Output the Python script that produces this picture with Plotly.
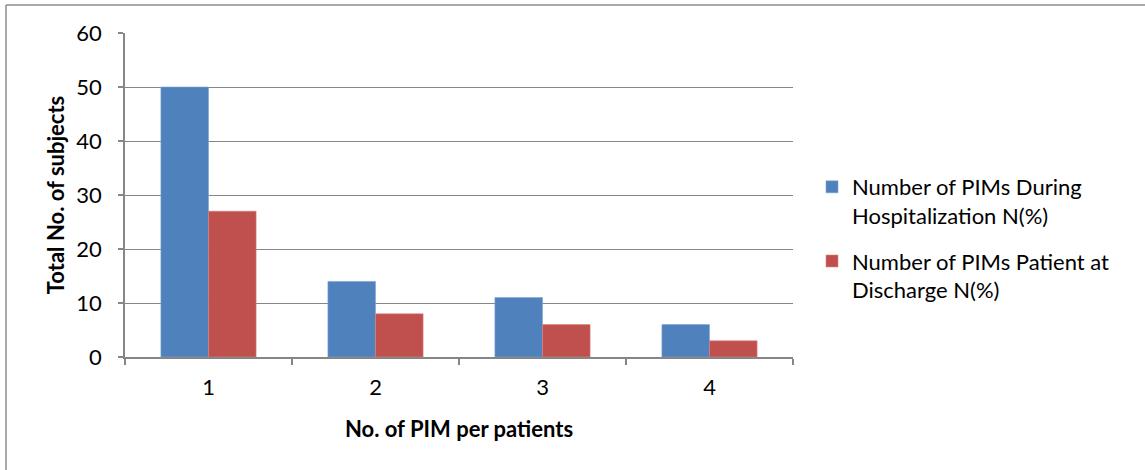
import plotly.graph_objects as go

categories = ["1", "2", "3", "4"]
during_hosp = [50, 14, 11, 6]
at_discharge = [27, 8, 6, 3]
series_names = ["Number of PIMs During<br>Hospitalization N(%)",
                "Number of PIMs Patient at<br>Discharge N(%)"]

FONT = "Lato"
GRAY = "#868686"
FS = 22

fig = go.Figure()
fig.add_trace(go.Bar(x=categories, y=during_hosp, name=series_names[0],
                     marker=dict(color="#4F81BD", line=dict(color="#7FA3D0", width=0.6)),
                     legendgroup="a"))
fig.add_trace(go.Bar(x=categories, y=at_discharge, name=series_names[1],
                     marker=dict(color="#C0504D", line=dict(color="#D88380", width=0.6)),
                     legendgroup="b"))

L, R, T, B = 125, 793, 33, 357
W, H = 1145, 470
pw, ph = R - L, B - T
def px(x): return (x - L) / pw
def py(y): return (B - y) / ph

fig.update_layout(
    width=W, height=H,
    margin=dict(l=L, r=W - R, t=T, b=H - B),
    paper_bgcolor="white", plot_bgcolor="white",
    barmode="group", bargap=0.43, bargroupgap=0,
    font=dict(family=FONT, size=FS, color="black"),
    legend=dict(x=px(812), y=py(166), xanchor="left", yanchor="top",
                valign="top", tracegroupgap=14, font=dict(size=FS),
                itemwidth=30),
    xaxis=dict(type="category", showline=True, linecolor=GRAY, linewidth=1.5,
               ticks="outside", ticklen=6, tickcolor=GRAY, tickwidth=1.5,
               tickson="boundaries", ticklabelstandoff=10,
               showgrid=False,
               title=dict(text="<b>No. of PIM per patients</b>", standoff=22,
                          font=dict(size=FS))),
    yaxis=dict(range=[0, 60], dtick=10, showline=True, linecolor=GRAY, linewidth=1.5,
               ticks="outside", ticklen=5, tickcolor=GRAY, tickwidth=1.5,
               showgrid=True, gridcolor=GRAY, gridwidth=1.2, zeroline=False,
               ticklabelstandoff=12,
               title=dict(text="<b>Total No. of subjects</b>", standoff=6,
                          font=dict(size=FS))),
    shapes=[
        dict(type="line", xref="paper", yref="paper", x0=px(6), x1=px(W + 5),
             y0=py(5), y1=py(5), line=dict(color="#8c8c8c", width=1.5)),
        dict(type="line", xref="paper", yref="paper", x0=px(6), x1=px(6),
             y0=py(5), y1=py(H + 5), line=dict(color="#8c8c8c", width=1.5)),
    ],
)

fig.write_html("out.html", config={"displayModeBar": False},
               post_script="document.body.style.margin='0';document.body.style.overflow='hidden';")
